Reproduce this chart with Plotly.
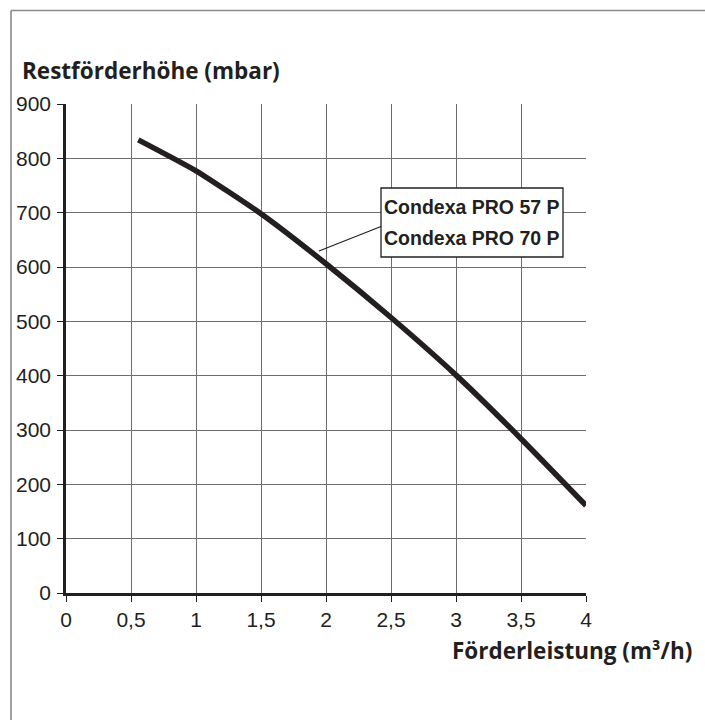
import plotly.graph_objects as go

# Data
flow_m3h = [0.556, 1.0, 1.5, 2.0, 2.5, 3.0, 3.5, 4.0]
head_mbar = [834, 777, 698, 606, 507, 401, 284, 161]

x_ticks = [0, 0.5, 1, 1.5, 2, 2.5, 3, 3.5, 4]
x_tick_labels = ["0", "0,5", "1", "1,5", "2", "2,5", "3", "3,5", "4"]
y_ticks = [0, 100, 200, 300, 400, 500, 600, 700, 800, 900]
y_tick_labels = [str(v) for v in y_ticks]

series_lines = ["Condexa PRO 57 P", "Condexa PRO 70 P"]
y_title = "Restförderhöhe (mbar)"
x_title = "Förderleistung (m³/h)"

W, H = 705, 720
L, R, T, B = 66, 119, 104, 127
pw, ph = W - L - R, H - T - B

def px(xp):
    return (xp - L) / pw

def py(yp):
    return (H - B - yp) / ph

narrow = "Liberation Sans, Arial, sans-serif"
ink = "#231f20"
grid = "#6d6d6d"

fig = go.Figure()
fig.add_trace(go.Scatter(
    x=flow_m3h, y=head_mbar, mode="lines",
    line=dict(color=ink, width=5.5, shape="spline", smoothing=0.5),
    hoverinfo="skip", showlegend=False,
))

fig.update_layout(
    width=W, height=H,
    margin=dict(l=L, r=R, t=T, b=B, autoexpand=False),
    paper_bgcolor="white", plot_bgcolor="white",
    showlegend=False,
    xaxis=dict(
        range=[0, 4], tickvals=x_ticks, ticktext=x_tick_labels,
        showgrid=True, gridcolor=grid, gridwidth=1.3,
        zeroline=False, showline=True, linecolor=ink, linewidth=3.2,
        ticks="outside", ticklen=6, tickcolor=ink, tickwidth=1.2,
        tickfont=dict(family=narrow, size=21, color=ink),
        ticklabelstandoff=0,
        fixedrange=True, automargin=False,
    ),
    yaxis=dict(
        range=[0, 900], tickvals=y_ticks, ticktext=y_tick_labels,
        showgrid=True, gridcolor=grid, gridwidth=1.3,
        zeroline=False, showline=True, linecolor=ink, linewidth=2.6,
        ticks="outside", ticklen=6, tickcolor=ink, tickwidth=1.2,
        tickfont=dict(family=narrow, size=21, color=ink),
        ticklabelstandoff=2,
        fixedrange=True, automargin=False,
    ),
)

# outer frame (top and left edges)
frame = dict(color="#8a8a8a", width=1.6)
fig.add_shape(type="line", xref="paper", yref="paper",
              x0=px(11), x1=px(W + 5), y0=py(10.5), y1=py(10.5), line=frame)
fig.add_shape(type="line", xref="paper", yref="paper",
              x0=px(11), x1=px(11), y0=py(10.5), y1=py(H + 5), line=frame)

# leader line from curve to label box
fig.add_shape(type="line", xref="paper", yref="paper",
              x0=px(319), y0=py(251), x1=px(381), y1=py(226.5),
              line=dict(color=ink, width=1.2))

# label box
fig.add_shape(type="rect", xref="paper", yref="paper",
              x0=px(381), x1=px(563), y0=py(188), y1=py(257),
              line=dict(color=ink, width=1.3), fillcolor="white", layer="above")
for i, txt in enumerate(series_lines):
    fig.add_annotation(
        text=txt, xref="paper", yref="paper",
        x=px(472), y=py(207 + 31 * i), xanchor="center", yanchor="middle",
        showarrow=False,
        font=dict(family=narrow, size=19.5, color=ink, weight="bold"),
    )

# axis titles
fig.add_annotation(
    text=y_title, xref="paper", yref="paper",
    x=px(20), y=py(71), xanchor="left", yanchor="middle", showarrow=False,
    font=dict(family="Open Sans, sans-serif", size=22.5, color=ink, weight="bold"),
)
fig.add_annotation(
    text=x_title, xref="paper", yref="paper",
    x=px(694), y=py(650), xanchor="right", yanchor="middle", showarrow=False,
    font=dict(family="Open Sans, sans-serif", size=22.5, color=ink, weight="bold"),
)

fig.write_html("out.html", config={"displayModeBar": False},
               post_script="document.body.style.margin='0';")
